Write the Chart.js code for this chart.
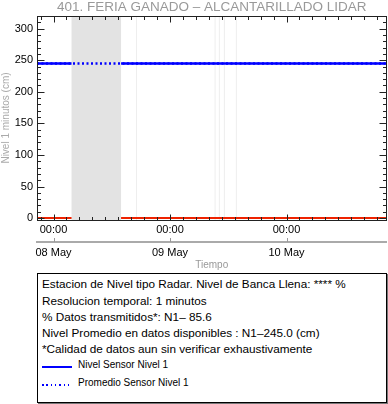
<!DOCTYPE html>
<html>
<head>
<meta charset="utf-8">
<script src="https://cdn.jsdelivr.net/npm/chart.js@4.4.0/dist/chart.umd.min.js"></script>
<style>
  body { margin: 0; background: #fff; font-family: "Liberation Sans", Arial, sans-serif; }
  #wrap { position: absolute; left: 0; top: 0; width: 388px; height: 272px; }
  #info { position: absolute; left: 37px; top: 273px; width: 348px; height: 128px; border: 1px solid #000; box-shadow: 1px 1px 0 #777; }
  .t { position: absolute; left: 4px; font-size: 11.75px; line-height: 16px; white-space: nowrap; color: #000; }
  .muestra { position: absolute; left: 4px; width: 30px; height: 1.5px; }
  .lt { position: absolute; left: 40px; font-size: 10px; line-height: 12px; white-space: nowrap; color: #000; }
</style>
</head>
<body>
<div id="wrap"><canvas id="grafico" width="388" height="272"></canvas></div>
<div id="info">
  <div class="t" style="top:2px">Estacion de Nivel tipo Radar. Nivel de Banca Llena: **** %</div>
  <div class="t" style="top:19px">Resolucion temporal: 1 minutos</div>
  <div class="t" style="top:35px">% Datos transmitidos*: N1– 85.6</div>
  <div class="t" style="top:51px">Nivel Promedio en datos disponibles : N1–245.0 (cm)</div>
  <div class="t" style="top:67px">*Calidad de datos aun sin verificar exhaustivamente</div>
  <div class="muestra" style="top:92px; background:#0000ff"></div>
  <div class="lt" style="top:85px">Nivel Sensor Nivel 1</div>
  <div class="muestra" style="top:110px; background:repeating-linear-gradient(to right, #0000ff 0 1.5px, transparent 1.5px 4.3px)"></div>
  <div class="lt" style="top:103px">Promedio Sensor Nivel 1</div>
</div>
<script>
// tiempo en minutos desde 08 May 00:00
var tiempoMin = -204;
var tiempoMax = 4116;
var tiempos = [-204, 223, 224, 834, 835, 4116];
var nivelSensor1 = [245, 245, null, null, 245, 245];
var promedioSensor1 = [245, 245, 245, 245, 245, 245];
var nivelRojo = [0, 0, null, null, 0, 0];
// huecos sin datos
var gapInicio = [223, 1020, 1991, 2044, 2106, 2254];
var gapFin = [835, 1022, 1993, 2046, 2108, 2256];
var etiquetasDia = ['08 May', '09 May', '10 May'];
var etiquetaHora = '00:00';
var pasoMenor = 160;   // minutos entre marcas menores
var pasoDia = 1440;

var fuente = '"Liberation Sans", Arial, sans-serif';

function puntos(valores) {
    return tiempos.map(function (t, i) { return { x: t, y: valores[i] }; });
}

// chart.js arranca las marcas en min cuando min/max/stepSize estan fijados, las rehago alineadas
function marcasAlineadas(paso) {
    return function (s) {
        var t = [];
        for (var v = Math.ceil(tiempoMin / paso) * paso; v <= tiempoMax; v += paso) t.push({ value: v });
        s.ticks = t;
    };
}

var sombras = {
    id: 'sombras',
    beforeDatasetsDraw: function (chart) {
        var ctx = chart.ctx, a = chart.chartArea, x = chart.scales.x;
        ctx.save();
        for (var i = 0; i < gapInicio.length; i++) {
            var x0 = x.getPixelForValue(gapInicio[i]);
            var x1 = x.getPixelForValue(gapFin[i]);
            ctx.fillStyle = (x1 - x0) < 2 ? '#eeeeee' : '#e3e3e3';
            ctx.fillRect(x0, a.top, Math.max(1, x1 - x0), a.bottom - a.top);
        }
        ctx.restore();
    }
};

var marco = {
    id: 'marco',
    afterDraw: function (chart) {
        var ctx = chart.ctx, a = chart.chartArea;
        var x = chart.scales.x, y = chart.scales.y, x2 = chart.scales.x2;
        var L = Math.floor(a.left) + 0.5, R = Math.floor(a.right) + 0.5;
        var T = Math.floor(a.top) + 0.5, B = Math.floor(a.bottom) + 0.5;
        ctx.save();
        ctx.strokeStyle = '#222';
        ctx.lineWidth = 1;
        ctx.strokeRect(L, T, R - L, B - T);
        ctx.beginPath();
        x.ticks.forEach(function (t) {
            var px = Math.round(x.getPixelForValue(t.value)) + 0.5;
            var len = t.value % pasoDia === 0 ? 6 : 3.5;
            ctx.moveTo(px, B); ctx.lineTo(px, B - len);
            ctx.moveTo(px, T); ctx.lineTo(px, T + len);
        });
        y.ticks.forEach(function (t) {
            var py = Math.round(y.getPixelForValue(t.value)) + 0.5;
            var len = t.value % 50 === 0 ? 7 : 3.5;
            ctx.moveTo(L, py); ctx.lineTo(L + len, py);
            ctx.moveTo(R, py); ctx.lineTo(R - len, py);
        });
        ctx.stroke();
        ctx.strokeStyle = '#999';
        ctx.beginPath();
        x2.ticks.forEach(function (t) {
            var px = Math.round(x2.getPixelForValue(t.value)) + 0.5;
            ctx.moveTo(px, x2.top); ctx.lineTo(px, x2.top - 4);
        });
        ctx.stroke();
        ctx.restore();
    }
};

var ctx = document.getElementById('grafico').getContext('2d');
var grafico = new Chart(ctx, {
    type: 'line',
    data: {
        datasets: [{
            label: 'Nivel Sensor Nivel 1',
            data: puntos(nivelSensor1),
            borderColor: '#0000ff',
            borderWidth: 2.5,
            order: 1
        }, {
            label: 'Promedio Sensor Nivel 1',
            data: puntos(promedioSensor1),
            borderColor: '#0000ff',
            borderWidth: 2.5,
            borderDash: [2, 2.5],
            order: 2
        }, {
            label: 'Nivel',
            data: puntos(nivelRojo),
            borderColor: '#ee2200',
            borderWidth: 2,
            order: 3
        }]
    },
    options: {
        responsive: false,
        animation: false,
        spanGaps: false,
        elements: { point: { radius: 0 }, line: { tension: 0 } },
        layout: { padding: { left: 0, right: 1.5, top: 0, bottom: 0 } },
        plugins: {
            legend: { display: false },
            tooltip: { enabled: false },
            title: {
                display: true,
                text: '401. FERIA GANADO – ALCANTARILLADO LIDAR',
                color: '#999',
                fullSize: false,
                font: { family: fuente, size: 13.5, weight: 'normal', lineHeight: 1.15 },
                padding: { top: 0, bottom: 0.5 }
            }
        },
        scales: {
            x: {
                type: 'linear',
                position: 'bottom',
                min: tiempoMin,
                max: tiempoMax,
                weight: 0,
                afterBuildTicks: marcasAlineadas(pasoMenor),
                afterFit: function (s) { s.height = 22; },
                grid: { display: false, drawTicks: false },
                border: { display: false },
                ticks: {
                    autoSkip: false,
                    maxRotation: 0,
                    padding: 3,
                    color: '#000',
                    font: { family: fuente, size: 11 },
                    callback: function (v) { return v % pasoDia === 0 ? etiquetaHora : ''; }
                }
            },
            x2: {
                type: 'linear',
                position: 'bottom',
                min: tiempoMin,
                max: tiempoMax,
                weight: 1,
                afterBuildTicks: marcasAlineadas(pasoDia),
                afterFit: function (s) { s.height = 30; },
                grid: { display: false, drawTicks: false },
                border: { display: true, color: '#aaa', width: 2 },
                ticks: {
                    autoSkip: false,
                    maxRotation: 0,
                    padding: 4,
                    color: '#000',
                    font: { family: fuente, size: 11 },
                    callback: function (v) { return etiquetasDia[v / pasoDia] || ''; }
                },
                title: {
                    display: true,
                    text: 'Tiempo',
                    color: '#999',
                    font: { family: fuente, size: 10 },
                    padding: { top: 0, bottom: 1 }
                }
            },
            y: {
                type: 'linear',
                position: 'left',
                min: -3,
                max: 320,
                afterFit: function (s) { s.width = 37; },
                grid: { display: false, drawTicks: false },
                border: { display: false },
                ticks: {
                    stepSize: 10,
                    includeBounds: false,
                    autoSkip: false,
                    padding: 4,
                    color: '#000',
                    font: { family: fuente, size: 11 },
                    callback: function (v) { return v % 50 === 0 ? String(v) : ''; }
                },
                title: {
                    display: true,
                    text: 'Nivel 1 minutos (cm)',
                    color: '#aaa',
                    font: { family: fuente, size: 10 },
                    padding: { top: 0, bottom: 0 }
                }
            }
        }
    },
    plugins: [sombras, marco]
});
</script>
</body>
</html>
